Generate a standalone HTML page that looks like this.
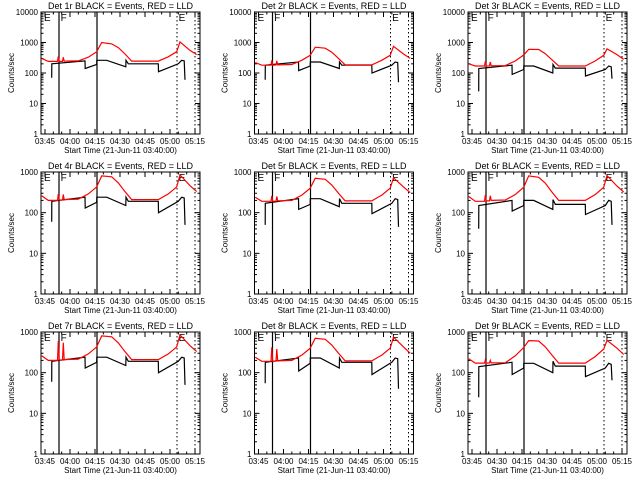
<!DOCTYPE html>
<html><head><meta charset="utf-8"><style>
body{margin:0;background:#fff;}
svg{display:block;font-family:"Liberation Sans",sans-serif;}
</style></head><body>
<svg id="c" width="640" height="480"></svg>
<script>
// minutes after 03:45
const redTimes = [-2, 2, 7.5, 8, 8.5, 10.5, 11, 11.5, 20, 26, 31, 34, 40, 44, 48, 52, 68, 74, 79, 81, 87, 91];
const blackTimes = [4, 4.1, 24, 24.1, 31, 31.1, 37, 48.5, 48.6, 50, 68, 68.1, 80, 82, 83.5, 84];
const red1 = [300,240,240,350,240,240,330,245,250,330,500,1000,900,680,420,245,245,340,500,1050,550,400];
const red2 = [220,180,180,260,180,185,250,185,190,260,380,700,650,480,300,185,185,260,380,750,420,300];
const red3 = [200,170,170,240,170,172,230,172,175,250,390,600,590,430,270,170,170,250,380,620,400,280];
const red4 = [260,200,200,290,205,205,280,210,215,290,430,800,760,540,330,210,210,290,430,850,460,330];
const red5 = [240,190,190,260,190,192,250,195,200,270,400,700,660,480,300,195,195,270,400,720,430,310];
const red6 = [250,190,190,270,195,195,260,200,205,280,420,800,740,530,320,200,200,280,420,820,450,320];
const red7 = [260,200,200,600,205,205,550,210,215,290,430,800,760,540,330,210,210,290,430,850,460,330];
const red8 = [240,190,190,420,190,192,380,195,200,270,400,700,660,480,300,195,195,270,400,750,430,300];
const red9 = [220,172,172,200,172,174,200,174,176,260,415,613,600,430,270,172,172,250,380,620,400,280];
const black1 = [70,200,250,140,190,260,260,160,260,200,200,110,200,260,250,60];
const black2 = [60,180,230,120,170,230,230,140,230,180,180,100,180,230,220,50];
const black3 = [25,140,180,90,130,170,170,100,190,145,145,80,130,170,160,65];
const black4 = [60,190,240,130,180,240,240,150,240,190,190,100,190,240,230,50];
const black5 = [50,170,220,120,160,220,220,140,220,170,170,95,170,220,210,45];
const black6 = [40,150,200,110,150,200,200,120,210,160,160,90,150,200,190,50];
const black7 = [60,190,240,130,180,240,240,150,240,190,190,100,190,240,230,50];
const black8 = [55,180,230,110,170,230,230,130,230,180,180,90,180,230,220,40];
const black9 = [25,140,180,90,130,170,170,100,190,145,145,80,130,170,160,65];
const detNames = ["1r","2r","3r","4r","5r","6r","7r","8r","9r"];
const redSeries = [red1,red2,red3,red4,red5,red6,red7,red8,red9];
const blackSeries = [black1,black2,black3,black4,black5,black6,black7,black8,black9];
const tickLabelsA = ["03:45","04:00","04:15","04:30","04:45","05:00","05:15"];
const tickLabelsB = ["03:45","04:30","04:15","04:30","04:45","05:00","05:15"];
const tickMinutes = [0,15,30,45,60,75,90];
const solidLines = [8.4, 31.2];
const dottedLines = [79.2, 90];

const NS="http://www.w3.org/2000/svg";
const svg=document.getElementById('c');
function mk(tag,attrs,parent){const e=document.createElementNS(NS,tag);for(const k in attrs)e.setAttribute(k,attrs[k]);(parent||svg).appendChild(e);return e;}

for(let p=0;p<9;p++){
  const col=p%3,row=Math.floor(p/3);
  const L=41+col*213.5, R=L+159, T=12+row*160, B=T+122;
  const dec = row===0?4:3;
  const g=mk('g',{});
  
  
  const xs=t=>L+4+t*1.6667;
  const ys=v=>B-Math.log10(v)/dec*(B-T);
  const title=mk('text',{x:(L+R)/2,y:T-3,'text-anchor':'middle','font-size':'9'},g);
  title.textContent='Det '+detNames[p]+' BLACK = Events, RED = LLD';
  
  
  const box=mk('rect',{x:L,y:T,width:R-L,height:B-T,fill:'none',stroke:'#000','stroke-width':1},g);
  
  
  for(let d=0;d<=dec;d++){
    const y=ys(Math.pow(10,d));
    mk('line',{x1:L,x2:L+5,y1:y,y2:y,stroke:'#000'},g);
    mk('line',{x1:R,x2:R-5,y1:y,y2:y,stroke:'#000'},g);
    const lb=mk('text',{x:L-3,y:y+3,'text-anchor':'end','font-size':'8'},g);
    lb.textContent=String(Math.pow(10,d));
    
    
    if(d<dec)for(let m=2;m<10;m++){const yy=ys(m*Math.pow(10,d));
      mk('line',{x1:L,x2:L+2.5,y1:yy,y2:yy,stroke:'#000'},g);
      mk('line',{x1:R,x2:R-2.5,y1:yy,y2:yy,stroke:'#000'},g);}
  }
  const labs = col===2?tickLabelsB:tickLabelsA;
  tickMinutes.forEach((m,i)=>{const x=xs(m);
    mk('line',{x1:x,x2:x,y1:B,y2:B-5,stroke:'#000'},g);
    mk('line',{x1:x,x2:x,y1:T,y2:T+5,stroke:'#000'},g);
    const lb=mk('text',{x:x,y:B+10,'text-anchor':'middle','font-size':'8'},g);
    lb.textContent=labs[i];
    
    
    for(let k=1;k<3;k++){const xm=xs(m+k*5); if(xm<R){mk('line',{x1:xm,x2:xm,y1:B,y2:B-2.5,stroke:'#000'},g);mk('line',{x1:xm,x2:xm,y1:T,y2:T+2.5,stroke:'#000'},g);}}
  });
  const xl=mk('text',{x:(L+R)/2,y:B+19,'text-anchor':'middle','font-size':'8'},g);
  xl.textContent='Start Time (21-Jun-11 03:40:00)';
  
  
  const yl=mk('text',{x:0,y:0,'text-anchor':'middle','font-size':'8',transform:`translate(${L-27},${(T+B)/2}) rotate(-90)`},g);
  yl.textContent='Counts/sec';
  
  
  solidLines.forEach(m=>{const l=mk('line',{x1:xs(m),x2:xs(m),y1:T,y2:B,stroke:'#000','stroke-width':1.2},g);
    
    });
  dottedLines.forEach(m=>{const l=mk('line',{x1:xs(m),x2:xs(m),y1:T,y2:B,stroke:'#000','stroke-dasharray':'1.5,2.5'},g);
    
    });
  [["E",solidLines[0]-9],["F",solidLines[0]+1],["E",dottedLines[0]+1]].forEach(([s,m])=>{
    const t=mk('text',{x:xs(m),y:T+9,'font-size':'10'},g);t.textContent=s;
    
    });
  let dR='',dB='';
  redTimes.forEach((t,i)=>{dR+=(i?'L':'M')+xs(t).toFixed(1)+','+ys(redSeries[p][i]).toFixed(1);});
  blackTimes.forEach((t,i)=>{dB+=(i?'L':'M')+xs(t).toFixed(1)+','+ys(blackSeries[p][i]).toFixed(1);});
  const pb=mk('path',{d:dB,fill:'none',stroke:'#000','stroke-width':1.2},g);
  
  
  const pr=mk('path',{d:dR,fill:'none',stroke:'#f00','stroke-width':1.2},g);
  
  
}
</script>
</body></html>
